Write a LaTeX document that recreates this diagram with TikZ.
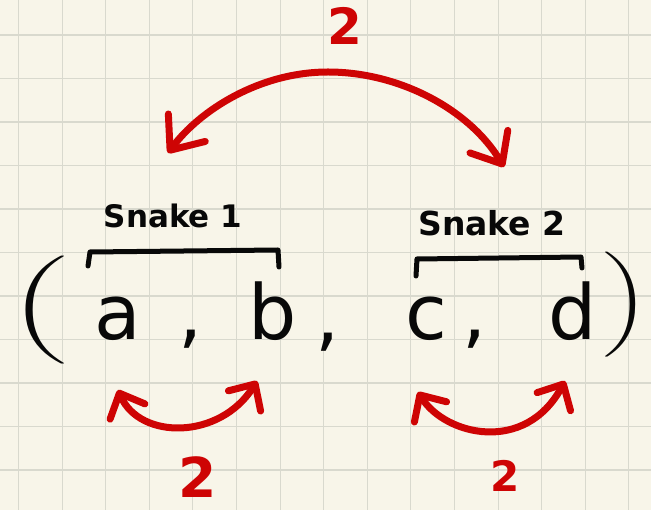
\documentclass[tikz,border=0pt]{standalone}
\usepackage{fontspec}
\usepackage{graphicx}
\setmainfont{DejaVu Sans}
\usetikzlibrary{arrows.meta,calc}
\definecolor{paper}{RGB}{248,245,233}
\definecolor{gridc}{RGB}{217,217,206}
\definecolor{ink}{RGB}{8,8,8}
\definecolor{pen}{RGB}{206,4,4}
\begin{document}
\begin{tikzpicture}[x=1pt,y=-1pt,
  gridline/.style={draw=gridc,line width=1.1pt},
  letter/.style={anchor=base,inner sep=0pt,text=ink,font=\fontsize{76}{80}\selectfont},
  paren/.style={anchor=center,inner sep=0pt,text=ink},
  snakelabel/.style={anchor=base,inner sep=0pt,text=ink,font=\bfseries\fontsize{31}{36}\selectfont},
  bracket/.style={draw=ink,line width=5pt,line cap=round,line join=round},
  numlabel/.style={anchor=base,inner sep=0pt,text=pen,font=\bfseries},
  swaparc/.style={draw=pen,line width=7pt,line cap=round,
    arrows={Straight Barb[length=20pt,width=38pt,round]-Straight Barb[length=20pt,width=38pt,round]}},
  bigarc/.style={draw=pen,line width=7pt,line cap=round,
    arrows={Straight Barb[length=28pt,width=46pt,round]-Straight Barb[length=26pt,width=44pt,round]}}
]
% paper and grid
\fill[paper] (0,0) rectangle (651,510);
\useasboundingbox (0,0) rectangle (651,510);
\foreach \i in {0,...,14} \draw[gridline] ({18.5+43.6*\i},0) -- ({18.5+43.6*\i},510);
\foreach \j in {0,...,10} \draw[gridline] (0,{35+43.5*\j}) -- (651,{35+43.5*\j});

% tuple
\node[paren] (lp) at (38,310) {\scalebox{7.4}[3.6]{$\Bigg($}};
\node[letter] (a) at (118,340) {a};
\node[letter] (k1) at (191,340) {,};
\node[letter] (b) at (273,340) {b};
\node[letter] (k2) at (328,343) {,};
\node[letter] (c) at (426,340) {c};
\node[letter] (k3) at (475,340) {,};
\node[letter] (d) at (573,340) {d};
\node[paren] (rp) at (626,305) {\scalebox{5.8}[3.5]{$\Bigg)$}};

% snake labels and brackets
\node[snakelabel] (s1) at (173,228) {Snake 1};
\node[snakelabel,font=\bfseries\fontsize{33}{38}\selectfont] (s2) at (492,236) {Snake 2};
\draw[bracket] (88,266) -- (90,252) -- (278,250) -- (279,267);
\draw[bracket] (416,276) -- (417,259) -- (581,257) -- (582,268);

% numbers
\node[numlabel,font=\bfseries\fontsize{50}{54}\selectfont] (ntop) at (345,45) {2};
\node[numlabel,font=\bfseries\fontsize{55}{58}\selectfont] (nl) at (198,497) {2};
\node[numlabel,font=\bfseries\fontsize{42}{46}\selectfont] (nr) at (505,492) {2};

% arc end points
\coordinate (t1) at ($(s1.base)+(-5,-75)$);
\coordinate (t2) at ($(s2.base)+(12,-69)$);
\coordinate (al) at ($(a.base)+(0,50)$);
\coordinate (br) at ($(b.base)+(-16,41)$);
\coordinate (cl) at ($(c.base)+(-8,52)$);
\coordinate (dr) at ($(d.base)+(-8,41)$);

% arcs
\draw[bigarc] (t1) .. controls (200,110) and (260,72) .. (328,72)
  .. controls (400,72) and (470,110) .. (t2);
\draw[swaparc] (al) .. controls (140,440) and (220,440) .. (br);
\draw[swaparc] (cl) .. controls (445,435) and (525,455) .. (dr);
\end{tikzpicture}
\end{document}
